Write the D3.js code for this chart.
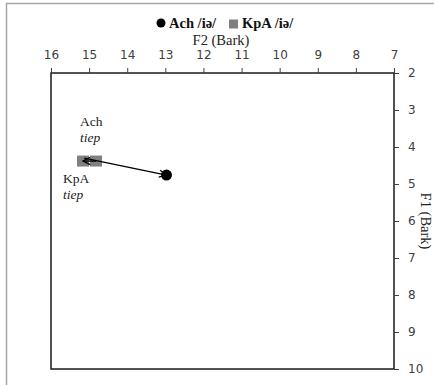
<!DOCTYPE html>
<html>
<head>
<meta charset="utf-8">
<script src="https://cdn.jsdelivr.net/npm/d3@7"></script>
<style>
  html, body { margin: 0; padding: 0; background: #fff; }
  svg { display: block; }
</style>
</head>
<body>
<svg id="chart" width="434" height="385"></svg>
<script>
// Vowel trajectories in the F2/F1 plane (Bark)
const seriesNames = ["Ach /iə/", "KpA /iə/"];
const achF2 = [15.13, 12.97];
const achF1 = [4.30, 4.76];
const kpaF2 = [14.82, 15.16];
const kpaF1 = [4.38, 4.38];
const f2Ticks = [16, 15, 14, 13, 12, 11, 10, 9, 8, 7];
const f1Ticks = [2, 3, 4, 5, 6, 7, 8, 9, 10];

const svg = d3.select("#chart");
const W = 434, H = 385;
const plot = { left: 51, right: 394, top: 73, bottom: 369 };
const serif = "Liberation Serif, Times New Roman, serif";

// Outer chart-area border
svg.append("path")
  .attr("d", `M6.5,${H} V3.5 H${W}`)
  .attr("fill", "none").attr("stroke", "#a6a6a6").attr("stroke-width", 1.5);

const x = d3.scaleLinear().domain([16, 7]).range([plot.left, plot.right]);
const y = d3.scaleLinear().domain([2, 10]).range([plot.top, plot.bottom]);

// Plot frame
svg.append("rect")
  .attr("x", plot.left).attr("y", plot.top)
  .attr("width", plot.right - plot.left).attr("height", plot.bottom - plot.top)
  .attr("fill", "none").attr("stroke", "#1a1a1a").attr("stroke-width", 1.5);

// Top axis (F2, reversed)
const xAxis = svg.append("g").attr("transform", `translate(0,${plot.top})`)
  .call(d3.axisTop(x).tickValues(f2Ticks).tickSize(5).tickPadding(9).tickFormat(d3.format("d")));
xAxis.select(".domain").remove();
xAxis.selectAll("line").attr("stroke", "#404040");
xAxis.selectAll("text").attr("font-family", "DejaVu Sans, sans-serif")
  .attr("font-size", 12).attr("fill", "#404040");

// Right axis (F1, downward)
const yAxis = svg.append("g").attr("transform", `translate(${plot.right},0)`)
  .call(d3.axisRight(y).tickValues(f1Ticks).tickSize(5).tickPadding(9).tickFormat(d3.format("d")));
yAxis.select(".domain").remove();
yAxis.selectAll("line").attr("stroke", "#404040");
yAxis.selectAll("text").attr("font-family", "DejaVu Sans, sans-serif")
  .attr("font-size", 12).attr("fill", "#404040");

// Axis titles
svg.append("text").attr("x", 221).attr("y", 45).attr("text-anchor", "middle")
  .attr("font-family", serif).attr("font-size", 14.5).attr("fill", "#222")
  .text("F2 (Bark)");
svg.append("text")
  .attr("transform", `translate(426,${(plot.top + plot.bottom) / 2}) rotate(90)`)
  .attr("text-anchor", "middle").attr("dy", "0.35em")
  .attr("font-family", serif).attr("font-size", 14.5).attr("fill", "#222")
  .text("F1 (Bark)");

// Legend
const legend = svg.append("g").attr("font-family", serif)
  .attr("font-size", 14.5).attr("font-weight", "bold").attr("fill", "#111");
legend.append("circle").attr("cx", 161).attr("cy", 23).attr("r", 4.5).attr("fill", "#000");
legend.append("text").attr("x", 169).attr("y", 28).text(seriesNames[0]);
legend.append("rect").attr("x", 229).attr("y", 19.5).attr("width", 9).attr("height", 9).attr("fill", "#808080");
legend.append("text").attr("x", 242).attr("y", 28).text(seriesNames[1]);

// Open arrowhead marker
const defs = svg.append("defs");
defs.append("marker").attr("id", "arrow")
  .attr("viewBox", "0 0 10 10").attr("refX", 9).attr("refY", 5)
  .attr("markerWidth", 9).attr("markerHeight", 9).attr("markerUnits", "userSpaceOnUse")
  .attr("orient", "auto")
  .append("path").attr("d", "M1,1 L9,5 L1,9").attr("fill", "none")
  .attr("stroke", "#000").attr("stroke-width", 1.4);

const line = d3.line().x(d => x(d[0])).y(d => y(d[1]));

// KpA markers (start and end squares)
const kpa = kpaF2.map((v, i) => [v, kpaF1[i]]);
svg.append("g").selectAll("rect").data(kpa).join("rect")
  .attr("x", d => x(d[0]) - 6).attr("y", d => y(d[1]) - 5.5)
  .attr("width", 12).attr("height", 11).attr("fill", "#808080");
svg.append("path").datum(kpa).attr("d", line)
  .attr("fill", "none").attr("stroke", "#000").attr("stroke-width", 1.4)
  .attr("marker-end", "url(#arrow)");

// Ach trajectory with end marker
const ach = achF2.map((v, i) => [v, achF1[i]]);
svg.append("path").datum(ach).attr("d", line)
  .attr("fill", "none").attr("stroke", "#000").attr("stroke-width", 1.4)
  .attr("marker-end", "url(#arrow)");
svg.append("circle").attr("cx", x(ach[1][0])).attr("cy", y(ach[1][1]))
  .attr("r", 5.5).attr("fill", "#000");

// Point labels
const lab = svg.append("g").attr("font-family", serif)
  .attr("font-size", 13.5).attr("fill", "#222");
lab.append("text").attr("x", 80).attr("y", 126).text("Ach");
lab.append("text").attr("x", 80).attr("y", 142).attr("font-style", "italic").text("tiep");
lab.append("text").attr("x", 63).attr("y", 183).text("KpA");
lab.append("text").attr("x", 63).attr("y", 199).attr("font-style", "italic").text("tiep");
</script>
</body>
</html>
